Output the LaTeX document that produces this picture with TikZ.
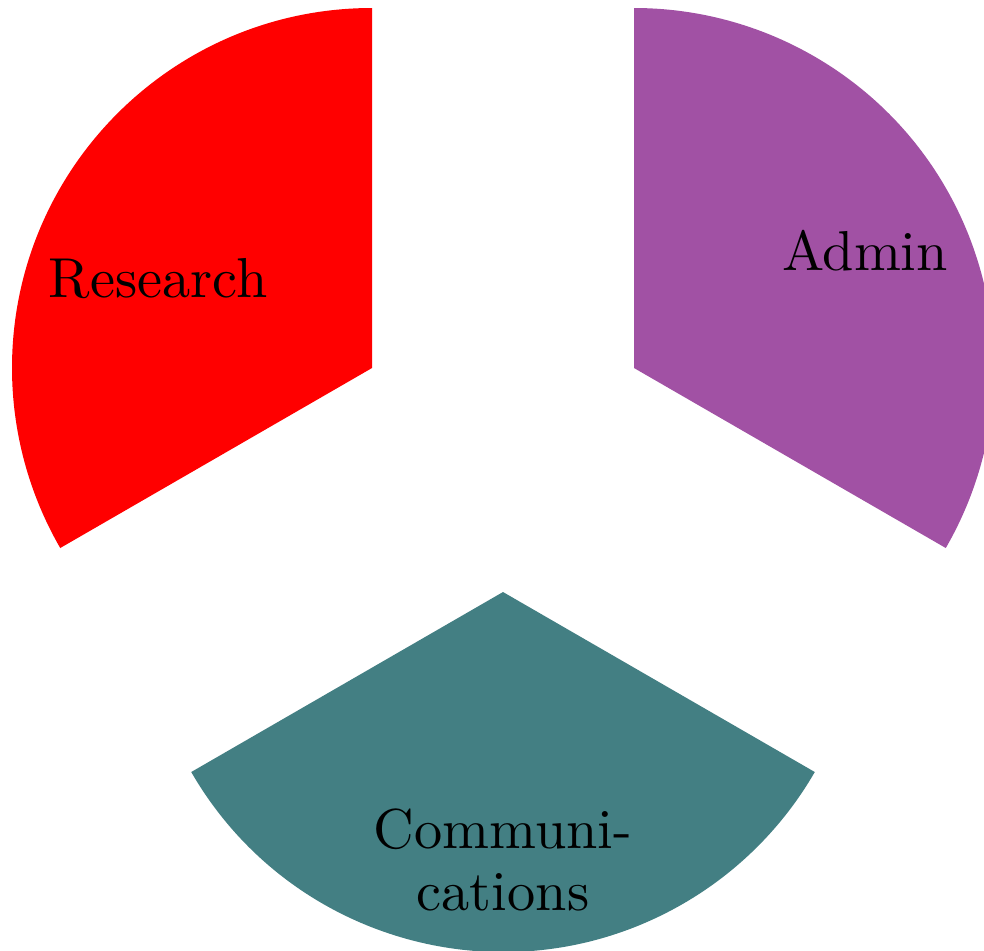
\documentclass[tikz,border=0pt]{standalone}
\usepackage{xcolor}
\definecolor{adminpurple}{RGB}{161,81,164}
\definecolor{commteal}{RGB}{67,127,131}
\begin{document}
\begin{tikzpicture}[x=0.1776pt,y=0.1776pt,
  label/.style={font=\fontsize{10}{11}\selectfont, inner sep=0pt, text=black}]
\useasboundingbox (0,0) rectangle (984,950);
\clip (0,0) rectangle (984,950);
% Research sector
\coordinate (rc) at (372,582);
\fill[red] (rc) -- ++(90:360) arc[start angle=90, end angle=210, radius=360] -- cycle;
% Admin sector
\coordinate (ac) at (634,582);
\fill[adminpurple] (ac) -- ++(-30:360) arc[start angle=-30, end angle=90, radius=360] -- cycle;
% Communications sector
\coordinate (cc) at (503,358);
\fill[commteal] (cc) -- ++(210:360) arc[start angle=210, end angle=330, radius=360] -- cycle;
% Labels
\node[label, anchor=base] (lres) at (158,653) {Research};
\node[label, anchor=base] (ladm) at (865,680) {Admin};
\node[label, align=center, anchor=center] (lcom) at (503,90) {Communi-\\cations};
\end{tikzpicture}
\end{document}
